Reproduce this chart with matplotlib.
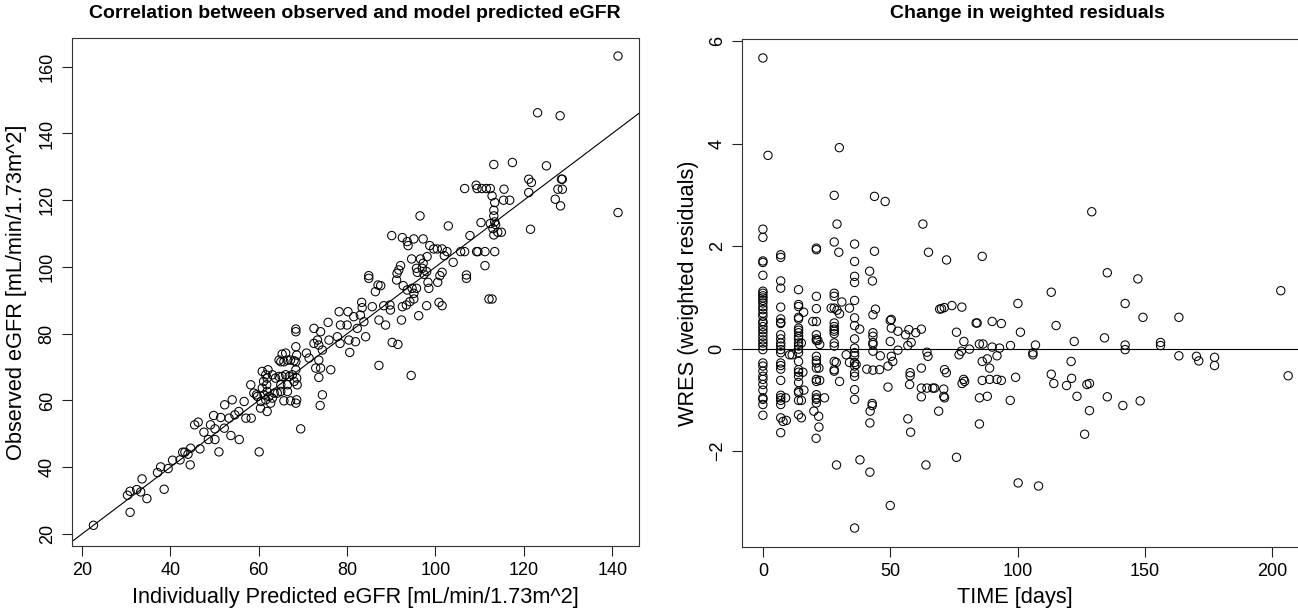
import matplotlib
matplotlib.use('Agg')
import matplotlib.pyplot as plt

plt.rcParams['font.family'] = ['Liberation Sans', 'DejaVu Sans']

# left panel: individually predicted vs observed eGFR
pred_egfr = [22.6, 30.9, 30.3, 30.9, 32.4, 33.3, 34.7, 33.6, 38.6, 37.1,
             37.8, 39.5, 40.5, 42.2, 42.8, 43.3, 44.0, 44.6, 44.5, 45.5,
             46.3, 46.7, 47.6, 48.6, 49.1, 50.1, 49.8, 50.1, 51.0, 51.4,
             52.3, 52.2, 54.0, 53.3, 53.7, 54.6, 55.6, 55.5, 56.7, 57.1,
             58.2, 58.3, 59.5, 60.1, 60.4, 61.9, 63.1, 64.2, 65.0, 60.8,
             61.6, 61.9, 61.1, 61.8, 60.8, 61.9, 61.2, 62.3, 61.6, 62.7,
             60.5, 59.7, 58.9, 62.1, 63.1, 63.8, 64.6, 65.3, 66.1, 66.9,
             67.6, 68.4, 68.4, 68.6, 68.4, 68.4, 68.4, 65.7, 66.5, 67.2,
             68.0, 64.6, 65.3, 66.1, 65.0, 66.5, 68.0, 68.7, 68.6, 65.7,
             67.2, 68.4, 68.6, 63.5, 65.0, 66.5, 69.5, 70.8, 71.4, 72.5,
             72.5, 73.3, 73.6, 74.0, 74.4, 73.6, 72.9, 74.0, 73.6, 74.4,
             73.9, 76.3, 75.9, 75.7, 77.8, 78.2, 78.5, 78.4, 80.0, 80.2,
             80.4, 80.6, 81.5, 81.9, 82.3, 83.3, 83.4, 83.8, 84.2, 83.0,
             85.7, 86.4, 87.0, 87.2, 87.2, 84.9, 84.9, 87.6, 91.2, 92.7,
             93.6, 94.7, 95.7, 95.1, 95.1, 94.2, 93.4, 92.5, 92.3, 89.7,
             89.8, 88.3, 88.7, 90.2, 91.5, 94.5, 96.2, 98.0, 98.5, 98.3,
             100.5, 100.8, 101.5, 112.1, 112.8, 107.0, 141.3, 123.1, 128.2, 141.3,
             113.2, 117.4, 125.1, 121.1, 121.7, 121.1, 128.5, 128.7, 127.7, 128.7,
             127.1, 128.3, 121.5, 106.6, 109.2, 109.4, 110.5, 111.5, 112.4, 112.8,
             113.4, 113.2, 115.5, 115.4, 116.8, 113.2, 113.4, 113.6, 112.4, 113.0,
             113.2, 114.1, 114.9, 110.3, 107.8, 102.9, 96.5, 90.1, 92.5, 93.6,
             93.8, 95.1, 97.2, 98.7, 99.6, 100.4, 101.5, 102.6, 102.0, 104.0,
             105.7, 106.6, 109.3, 109.6, 111.2, 113.4, 111.2, 107.0, 94.6, 96.6,
             97.2, 97.0, 98.0, 98.1, 95.7, 95.9, 92.1, 91.7, 91.3, 97.4,
             101.5, 101.0]
obs_egfr = [22.6, 26.5, 31.6, 32.8, 33.3, 32.6, 30.6, 36.5, 33.4, 38.4,
            40.1, 39.6, 42.1, 42.2, 44.5, 44.5, 43.9, 45.7, 40.7, 52.7,
            53.5, 45.5, 50.5, 48.3, 52.7, 48.3, 55.5, 51.5, 44.6, 54.9,
            58.7, 51.7, 60.2, 54.7, 49.5, 55.7, 48.3, 56.7, 59.7, 54.7,
            64.7, 54.7, 61.7, 44.6, 57.7, 56.7, 60.7, 62.2, 71.6, 68.7,
            67.7, 66.7, 65.7, 64.7, 63.7, 62.7, 61.7, 61.2, 60.2, 59.2,
            59.7, 61.2, 62.2, 69.2, 67.7, 66.7, 67.2, 67.2, 67.7, 67.2,
            67.7, 69.2, 71.6, 73.6, 76.1, 80.6, 81.4, 71.6, 72.1, 72.1,
            71.9, 72.1, 73.9, 74.2, 64.7, 64.7, 65.7, 64.7, 66.7, 59.9,
            59.9, 59.2, 60.2, 62.2, 62.7, 62.7, 51.5, 74.2, 72.7, 81.6,
            77.1, 78.1, 76.6, 80.6, 75.1, 72.1, 69.7, 69.7, 66.9, 61.7,
            58.5, 69.2, 78.1, 83.4, 79.1, 86.6, 82.6, 77.1, 82.6, 86.6,
            78.1, 74.4, 85.1, 77.6, 81.6, 89.4, 87.8, 83.6, 79.1, 85.6,
            88.1, 92.6, 94.6, 84.1, 70.5, 96.6, 97.4, 94.4, 96.1, 94.4,
            93.1, 93.6, 93.6, 92.1, 90.4, 89.6, 88.6, 88.1, 84.1, 88.6,
            87.1, 88.4, 82.6, 77.4, 76.8, 67.5, 85.4, 88.4, 93.6, 95.4,
            95.4, 89.4, 88.4, 90.4, 90.4, 96.6, 163.2, 146.2, 145.3, 116.3,
            130.7, 131.3, 130.3, 126.3, 125.3, 122.3, 126.3, 126.3, 123.3, 123.3,
            120.3, 118.3, 111.3, 123.5, 124.5, 123.5, 123.5, 123.5, 123.5, 121.3,
            119.3, 117.0, 123.3, 120.0, 120.0, 115.3, 113.5, 112.7, 113.0, 111.5,
            109.6, 110.4, 110.4, 113.3, 109.4, 112.3, 115.3, 109.4, 108.8, 107.6,
            106.4, 108.4, 108.4, 106.4, 105.4, 105.4, 105.4, 104.6, 103.4, 101.4,
            104.6, 104.6, 104.6, 104.6, 104.6, 104.6, 100.4, 97.6, 102.4, 102.4,
            101.1, 99.6, 98.6, 103.1, 99.6, 98.4, 100.4, 99.1, 98.1, 97.8,
            98.4, 97.4]

# right panel: weighted residuals over time
time_days = [0, 0, 0, 0, 0, 0, 0, 0, 0, 0,
             0, 0, 0, 0, 0, 0, 0, 0, 0, 0,
             0, 0, 0, 0, 0, 0, 0, 0, 0, 0,
             0, 0, 0, 0, 0, 0, 0, 2.0,
             7, 7, 7, 7, 7, 7, 7, 7, 7, 7,
             7, 7, 7, 7, 7, 7, 7, 7, 7, 7,
             7, 7, 7, 7, 8.9, 10.5, 11.5, 7.9, 9.2,
             14, 14, 14, 14, 14, 14, 14, 14, 14, 14,
             14, 14, 14, 14, 14, 14, 14, 14, 14, 14,
             14, 14, 14, 16.0, 15.1, 15.7, 16.1, 15.1, 15.1,
             21, 21, 21, 21, 21, 21, 21, 21, 21, 21,
             21, 21, 21, 21, 21, 21, 21, 21,
             20.0, 21.9, 22.0, 20.9, 19.6, 21.6, 22.3, 22.0, 22.3, 24.2,
             28, 28, 28, 28, 28, 28, 28, 28, 28, 28,
             28, 28, 28, 28, 28,
             30.0, 29.1, 29.8, 26.8, 29.1, 30.1, 31.0, 28.8, 30.1, 28.9,
             36, 36, 36, 36, 36, 36, 36, 36, 36, 36,
             36, 36, 36, 36, 36, 36, 36, 36,
             34.0, 38.0, 32.7, 34.0, 36.6, 38.1,
             41.9, 43.0, 43.2, 44.2, 43.2, 43.2, 43.2, 43.2, 43.2, 40.8,
             43.2, 43.8, 43.8, 48.0, 42.1, 42.9, 42.9, 42.0, 42.0,
             46.1, 45.8, 49.1, 49.1, 50.4, 51.0, 53.0, 50.4, 50.4, 53.0,
             56.0, 57.3, 58.2, 56.9, 60.0, 62.2, 62.8, 65.0, 57.8, 57.8,
             57.6, 62.2, 64.4, 64.8, 62.2, 64.4, 66.7, 62.2, 69.4, 50.0,
             56.9, 58.0, 64.0, 69.0, 50.0, 50.0,
             72.1, 86.1, 70.1, 71.2, 74.2, 78.1,
             76.0, 78.9, 81.1, 77.0, 77.9, 84.1, 83.7, 90.0, 85.0, 86.4,
             90.0, 91.9, 86.1, 88.1, 89.0, 89.0, 86.1, 78.8, 79.2, 78.2,
             71.3, 72.0, 71.0, 71.0, 71.3, 67.4, 76.0, 85.0, 88.1, 85.0,
             91.9,
             129.1, 100.1, 113.2, 135.2, 147.2, 142.2, 203.3, 149.2, 163.3,
             93.6, 101.1, 115.1, 92.9, 97.2, 106.0, 106.0, 107.0, 122.2, 134.1,
             142.2, 142.2, 156.1, 156.1, 163.3, 170.2, 171.1, 177.3, 177.3, 121.0,
             113.2, 114.2, 99.2, 93.6, 97.1, 121.2, 119.2, 127.2, 128.2, 123.3,
             128.2, 135.2, 141.3, 148.1, 126.3, 100.2, 108.2, 206.2]
wres = [5.67, 2.33, 2.17, 1.71, 1.68, 1.43, 1.12, 1.08, 1.03, 0.99,
        0.94, 0.89, 0.82, 0.76, 0.69, 0.63, 0.53, 0.50, 0.43, 0.37,
        0.31, 0.24, 0.17, 0.11, 0.05, -0.02, -0.28, -0.34, -0.44, -0.54,
        -0.60, -0.70, -0.81, -0.96, -0.99, -1.09, -1.30, 3.77,
        1.83, 1.78, 1.32, 1.18, 0.81, 0.58, 0.51, 0.49, 0.27, 0.19,
        0.11, 0.05, -0.02, -0.08, -0.28, -0.33, -0.40, -0.62, -0.91, -0.96,
        -1.01, -1.09, -1.35, -1.64, -0.96, -0.12, -0.12, -1.42, -1.40,
        1.15, 0.86, 0.82, 0.61, 0.58, 0.40, 0.36, 0.31, 0.24, 0.19,
        0.11, 0.05, -0.01, -0.08, -0.25, -0.41, -0.46, -0.54, -0.66, -0.83,
        -0.86, -1.01, -1.29, 0.71, 0.11, -0.46, -0.81, -1.01, -1.35,
        1.96, 1.93, 1.02, 0.78, 0.53, 0.27, 0.19, 0.16, -0.15, -0.23,
        -0.28, -0.38, -0.60, -0.64, -0.90, -0.96, -0.99, -1.06,
        -1.22, -1.32, -1.53, -1.75, 0.53, 0.16, 0.08, -0.38, -0.62, -0.96,
        2.99, 2.08, 1.08, 1.02, 0.79, 0.50, 0.43, 0.38, 0.34, 0.29,
        0.11, 0.05, -0.25, -0.41, -0.44,
        3.92, 2.43, 1.88, 0.79, 0.75, 0.68, 0.91, -0.27, -0.64, -2.27,
        2.04, 1.70, 1.41, 1.29, 0.94, 0.60, 0.45, 0.19, 0.01, -0.08,
        -0.14, -0.27, -0.34, -0.47, -0.54, -0.80, -0.99, -3.50,
        0.79, 0.38, -0.12, -0.27, -0.31, -2.17,
        1.51, 1.32, 0.66, 0.77, 0.31, 0.24, 0.12, 0.08, -0.05, -0.40,
        -0.42, 1.90, 2.97, 2.87, -1.22, -1.11, -1.07, -1.45, -2.41,
        -0.14, -0.41, -0.75, -0.34, -0.15, -0.25, -0.03, 0.57, 0.40, 0.34,
        0.27, 0.37, 0.12, 0.06, 0.31, 0.38, 2.43, 1.88, -0.47, -0.53,
        -0.70, -0.38, -0.07, -0.15, -0.77, -0.77, -0.77, -0.94, 0.77, -3.06,
        -1.37, -1.63, -2.27, -1.22, 0.14, 0.55,
        1.73, 1.80, 0.78, 0.80, 0.84, 0.81,
        0.32, 0.14, -0.01, -0.12, -0.05, 0.50, 0.50, 0.53, 0.09, 0.09,
        0.03, -0.14, -0.25, -0.20, -0.38, -0.60, -0.62, -0.60, -0.64, -0.68,
        -0.41, -0.47, -0.79, -0.93, -0.96, -0.77, -2.12, -0.96, -0.93, -1.47,
        -0.60,
        2.67, 0.88, 1.10, 1.48, 1.36, 0.88, 1.13, 0.61, 0.61,
        0.49, 0.32, 0.45, 0.01, 0.06, -0.08, -0.12, 0.07, 0.14, 0.21,
        0.07, -0.02, 0.12, 0.06, -0.14, -0.15, -0.24, -0.17, -0.33, -0.25,
        -0.50, -0.68, -0.56, -0.62, -1.01, -0.58, -0.72, -0.70, -0.68, -0.93,
        -1.21, -0.94, -1.11, -1.02, -1.67, -2.62, -2.68, -0.53]

W, H = 1298, 615
fig = plt.figure(figsize=(W / 100, H / 100), dpi=100)


def style(ax):
    for s in ax.spines.values():
        s.set_color('#333333')
        s.set_linewidth(0.8)
    ax.tick_params(direction='out', length=7.2, width=0.8, pad=4.5, labelsize=13, color='#222222')
    ax.tick_params(axis='y', labelrotation=90)
    for lab in ax.get_yticklabels():
        lab.set_verticalalignment('center')


# left
ax1 = fig.add_axes([72 / W, (H - 546) / H, 567 / W, 508 / H])
ax1.scatter(pred_egfr, obs_egfr, s=36, facecolors='none', edgecolors='black', linewidths=0.75)
ax1.axline((0, 0), slope=1, color='black', lw=0.8)
ax1.set_xlim(17.75, 146.05)
ax1.set_ylim(16.4, 168.6)
ax1.set_xticks(range(20, 141, 20))
ax1.set_yticks(range(20, 161, 20))
style(ax1)

# right (its right edge runs just past the image, as in the original)
ax2 = fig.add_axes([742 / W, (H - 547) / H, 564 / W, 508 / H])
ax2.scatter(time_days, wres, s=36, facecolors='none', edgecolors='black', linewidths=0.75)
ax2.axhline(0, color='black', lw=0.8)
ax2.set_xlim(-8.2, 213.2)
ax2.set_ylim(-3.87, 6.04)
ax2.set_xticks([0, 50, 100, 150, 200])
ax2.set_yticks([-2, 0, 2, 4, 6])
style(ax2)

# titles and axis labels
fig.text(355 / W, 1 - 13 / H, 'Correlation between observed and model predicted eGFR',
         ha='center', va='center', fontsize=14, fontweight='bold')
fig.text(1027 / W, 1 - 13 / H, 'Change in weighted residuals',
         ha='center', va='center', fontsize=14, fontweight='bold')
fig.text(355 / W, 1 - 598 / H, 'Individually Predicted eGFR [mL/min/1.73m^2]',
         ha='center', va='center', fontsize=15.7)
fig.text(1015 / W, 1 - 598 / H, 'TIME [days]', ha='center', va='center', fontsize=15.7)
fig.text(17 / W, 1 - 292 / H, 'Observed eGFR [mL/min/1.73m^2]',
         ha='center', va='center', rotation=90, fontsize=15.7)
fig.text(689 / W, 1 - 293 / H, 'WRES (weighted residuals)',
         ha='center', va='center', rotation=90, fontsize=15.7)

fig.savefig('out.png', dpi=100)
